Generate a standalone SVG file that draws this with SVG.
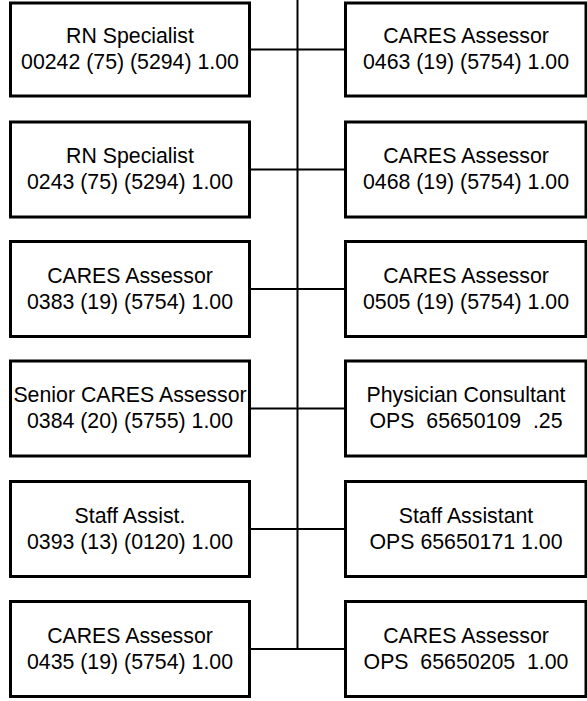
<svg xmlns="http://www.w3.org/2000/svg" width="587" height="701" viewBox="0 0 587 701">
  <style>
    .box { fill: #ffffff; stroke: #000000; stroke-width: 3; }
    .wire { fill: none; stroke: #000000; stroke-width: 2; }
    text { font-family: "Liberation Sans", Arial, sans-serif; font-size: 21.3px; fill: #000000; text-anchor: middle; }
  </style>
  <rect width="587" height="701" fill="#ffffff"/>

  <!-- trunk line and branches -->
  <g id="connectors">
    <line class="wire" x1="297.5" y1="0" x2="297.5" y2="649.5"/>
    <line class="wire" x1="250" y1="49.5" x2="346" y2="49.5"/>
    <line class="wire" x1="250" y1="169.5" x2="346" y2="169.5"/>
    <line class="wire" x1="250" y1="289" x2="346" y2="289"/>
    <line class="wire" x1="250" y1="408.5" x2="346" y2="408.5"/>
    <line class="wire" x1="250" y1="529" x2="346" y2="529"/>
    <line class="wire" x1="250" y1="649" x2="346" y2="649"/>
  </g>

  <!-- left column -->
  <g id="rn-specialist-00242">
    <rect class="box" x="10.5" y="3" width="239" height="93"/>
    <text x="130" y="43">RN Specialist</text>
    <text x="130" y="69">00242 (75) (5294) 1.00</text>
  </g>
  <g id="rn-specialist-0243">
    <rect class="box" x="10.5" y="122" width="239" height="95"/>
    <text x="130" y="163">RN Specialist</text>
    <text x="130" y="189">0243 (75) (5294) 1.00</text>
  </g>
  <g id="cares-assessor-0383">
    <rect class="box" x="10.5" y="241.5" width="239" height="95"/>
    <text x="130" y="282.5">CARES Assessor</text>
    <text x="130" y="308.5">0383 (19) (5754) 1.00</text>
  </g>
  <g id="senior-cares-assessor-0384">
    <rect class="box" x="10.5" y="361" width="239" height="95"/>
    <text x="130" y="402">Senior CARES Assessor</text>
    <text x="130" y="428">0384 (20) (5755) 1.00</text>
  </g>
  <g id="staff-assist-0393">
    <rect class="box" x="10.5" y="481.5" width="239" height="95"/>
    <text x="130" y="522.5">Staff Assist.</text>
    <text x="130" y="548.5">0393 (13) (0120) 1.00</text>
  </g>
  <g id="cares-assessor-0435">
    <rect class="box" x="10.5" y="601.5" width="239" height="95"/>
    <text x="130" y="642.5">CARES Assessor</text>
    <text x="130" y="668.5">0435 (19) (5754) 1.00</text>
  </g>

  <!-- right column -->
  <g id="cares-assessor-0463">
    <rect class="box" x="345.5" y="3" width="240.5" height="93"/>
    <text x="466" y="43">CARES Assessor</text>
    <text x="466" y="69">0463 (19) (5754) 1.00</text>
  </g>
  <g id="cares-assessor-0468">
    <rect class="box" x="345.5" y="122" width="240.5" height="95"/>
    <text x="466" y="163">CARES Assessor</text>
    <text x="466" y="189">0468 (19) (5754) 1.00</text>
  </g>
  <g id="cares-assessor-0505">
    <rect class="box" x="345.5" y="241.5" width="240.5" height="95"/>
    <text x="466" y="282.5">CARES Assessor</text>
    <text x="466" y="308.5">0505 (19) (5754) 1.00</text>
  </g>
  <g id="physician-consultant">
    <rect class="box" x="345.5" y="361" width="240.5" height="95"/>
    <text x="466" y="402">Physician Consultant</text>
    <text x="466" y="428" xml:space="preserve">OPS  65650109  .25</text>
  </g>
  <g id="staff-assistant">
    <rect class="box" x="345.5" y="481.5" width="240.5" height="95"/>
    <text x="466" y="522.5">Staff Assistant</text>
    <text x="466" y="548.5">OPS 65650171 1.00</text>
  </g>
  <g id="cares-assessor-ops">
    <rect class="box" x="345.5" y="601.5" width="240.5" height="95"/>
    <text x="466" y="642.5">CARES Assessor</text>
    <text x="466" y="668.5" xml:space="preserve">OPS  65650205  1.00</text>
  </g>
</svg>
